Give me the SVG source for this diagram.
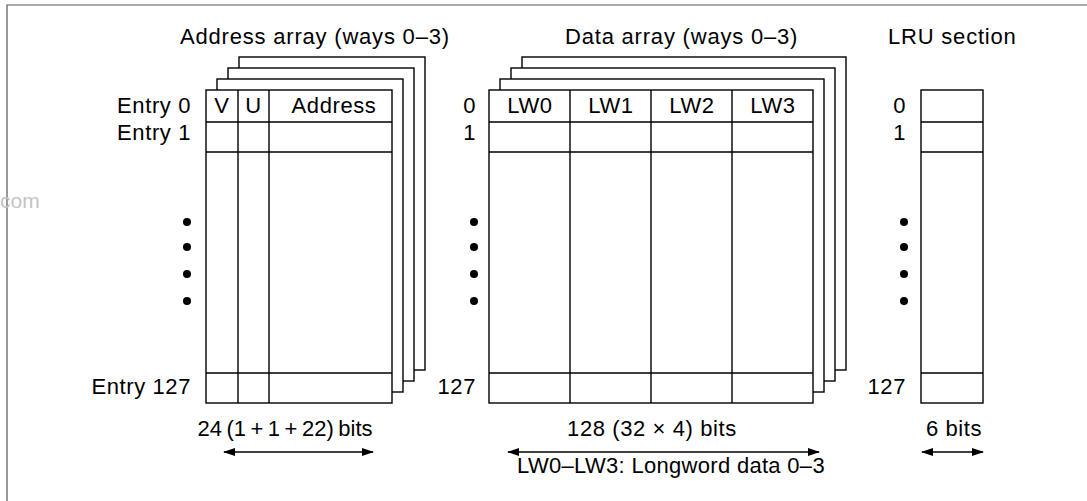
<svg xmlns="http://www.w3.org/2000/svg" width="1087" height="501" viewBox="0 0 1087 501">
<style>
text{font-family:"Liberation Sans",Arial,sans-serif;font-size:22px;fill:#000;letter-spacing:0.6px}
.t{letter-spacing:0.8px}
.r{text-anchor:end}
.m{text-anchor:middle}
.box{fill:#fff;stroke:#000;stroke-width:1.4}
.ln{stroke:#000;stroke-width:1.4;fill:none}
.frame{stroke:#555;stroke-width:1.2;fill:none}
.dim{stroke:#000;stroke-width:1.6;fill:none;marker-start:url(#ah);marker-end:url(#ah)}
</style>
<defs>
<marker id="ah" viewBox="0 0 12 8" refX="11" refY="4" markerWidth="12" markerHeight="8" markerUnits="userSpaceOnUse" orient="auto-start-reverse">
<path d="M0,0 L12,4 L0,8 Z" fill="#000"/>
</marker>
</defs>
<path class="frame" d="M7,501 V5 H1087"/>
<text x="0" y="208" style="fill:#c4c4c4;font-size:21px;letter-spacing:0">com</text>

<g id="address-array">
<text class="t" x="180" y="44">Address array (ways 0–3)</text>
<rect class="box" x="239" y="57" width="186" height="313"/>
<rect class="box" x="228" y="68" width="186" height="313"/>
<rect class="box" x="217" y="79" width="186" height="313"/>
<rect class="box" x="206" y="90" width="186" height="313"/>
<path class="ln" d="M206,122H392M206,152H392M206,373H392M238,90V403M269,90V403"/>
<text class="m" x="222" y="113">V</text>
<text class="m" x="253.5" y="113">U</text>
<text class="m" x="334" y="113">Address</text>
<text class="r" x="191" y="113">Entry 0</text>
<text class="r" x="191" y="140">Entry 1</text>
<text class="r" x="191" y="394">Entry 127</text>
<circle cx="187" cy="222" r="4"/><circle cx="187" cy="247" r="4"/><circle cx="187" cy="274" r="4"/><circle cx="187" cy="301" r="4"/>
<text class="m" x="285" y="436" style="letter-spacing:0;word-spacing:-1.6px">24 (1 + 1 + 22) bits</text>
</g>

<g id="data-array">
<text class="t" x="565" y="44">Data array (ways 0–3)</text>
<rect class="box" x="522" y="57" width="324" height="313"/>
<rect class="box" x="511" y="68" width="324" height="313"/>
<rect class="box" x="500" y="79" width="324" height="313"/>
<rect class="box" x="489" y="90" width="324" height="313"/>
<path class="ln" d="M489,122H813M489,152H813M489,373H813M570,90V403M651,90V403M732,90V403"/>
<text class="m" x="530" y="113">LW0</text>
<text class="m" x="611" y="113">LW1</text>
<text class="m" x="692" y="113">LW2</text>
<text class="m" x="773" y="113">LW3</text>
<text class="r" x="476" y="113">0</text>
<text class="r" x="476" y="140">1</text>
<text class="r" x="476" y="394">127</text>
<circle cx="474" cy="222" r="4"/><circle cx="474" cy="247" r="4"/><circle cx="474" cy="274" r="4"/><circle cx="474" cy="301" r="4"/>
<text class="m" x="652" y="436">128 (32 × 4) bits</text>
<text class="m" x="671" y="473" style="letter-spacing:0.3px">LW0–LW3: Longword data 0–3</text>
</g>

<g id="lru-section">
<text class="t" x="888" y="44">LRU section</text>
<rect class="box" x="921" y="90" width="62" height="313"/>
<path class="ln" d="M921,122H983M921,152H983M921,373H983"/>
<text class="r" x="906" y="113">0</text>
<text class="r" x="906" y="140">1</text>
<text class="r" x="906" y="394">127</text>
<circle cx="904" cy="222" r="4"/><circle cx="904" cy="247" r="4"/><circle cx="904" cy="274" r="4"/><circle cx="904" cy="301" r="4"/>
<text class="m" x="954" y="436">6 bits</text>
</g>

<g id="connectors">
<line class="dim" x1="224" y1="452" x2="373" y2="452"/>
<line class="dim" x1="508" y1="452" x2="819" y2="452"/>
<line class="dim" x1="922" y1="452" x2="983" y2="452"/>
</g>
</svg>
